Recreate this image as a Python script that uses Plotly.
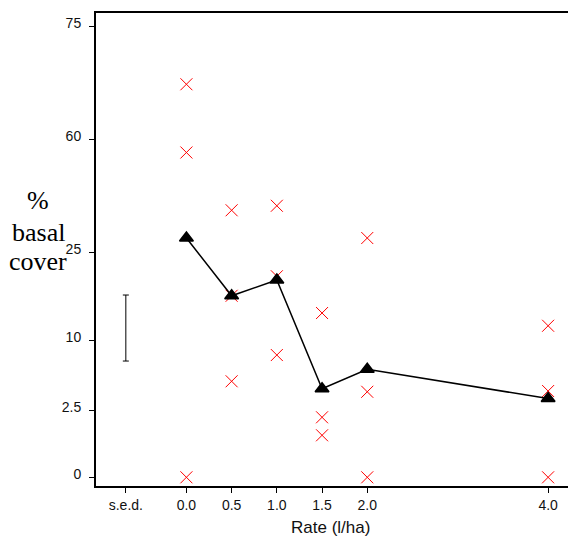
import plotly.graph_objects as go

# Rates (l/ha) and replicate observations (angular-transformed % basal cover units)
rates = [0.0, 0.5, 1.0, 1.5, 2.0, 4.0]
rep_x = [0.0, 0.0, 0.0,
         0.5, 0.5, 0.5,
         1.0, 1.0, 1.0,
         1.5, 1.5, 1.5,
         2.0, 2.0, 2.0,
         4.0, 4.0, 4.0]
rep_y = [52.4, 43.3, 0.0,
         35.6, 24.2, 12.8,
         36.2, 26.8, 16.3,
         21.9, 8.0, 5.6,
         31.9, 11.4, 0.0,
         20.2, 11.5, 0.0]
means = [31.9, 24.2, 26.3, 11.8, 14.4, 10.5]

# s.e.d. bar
sed_x = [-0.67]
sed_center = [19.9]
sed_half = [4.4]

# axis ticks
x_tickvals = [-0.67, 0.0, 0.5, 1.0, 1.5, 2.0, 4.0]
x_ticktext = ["s.e.d.", "0.0", "0.5", "1.0", "1.5", "2.0", "4.0"]
y_tickvals = [0.0, 8.9, 18.3, 30.0, 45.1, 60.1]
y_ticktext = ["0", "2.5", "10", "25", "60", "75"]

fig = go.Figure()

fig.add_trace(go.Scatter(
    x=rep_x, y=rep_y, mode="markers",
    marker=dict(symbol="x-thin", size=12, color="rgb(255,0,0)", opacity=1,
                line=dict(color="rgb(255,0,0)", width=1)),
    showlegend=False, hoverinfo="skip"))

fig.add_trace(go.Scatter(
    x=rates, y=means, mode="lines+markers",
    line=dict(color="black", width=1.5),
    marker=dict(symbol="triangle-up", size=12, color="black",
                line=dict(color="black", width=1.5)),
    showlegend=False, hoverinfo="skip"))

fig.add_trace(go.Scatter(
    x=sed_x, y=sed_center, mode="markers",
    marker=dict(size=1, color="rgba(0,0,0,0)"),
    error_y=dict(type="data", array=sed_half, visible=True,
                 color="black", thickness=1, width=3),
    showlegend=False, hoverinfo="skip"))

tickfont = dict(family="Liberation Sans, Arial, sans-serif", size=14, color="#111")

fig.update_layout(
    width=568, height=536,
    margin=dict(l=96, r=0, t=13, b=50),
    paper_bgcolor="white", plot_bgcolor="white",
    hovermode=False,
    xaxis=dict(range=[-1.0, 4.22], tickmode="array",
               tickvals=x_tickvals, ticktext=x_ticktext,
               showgrid=False, zeroline=False,
               showline=True, linecolor="black", linewidth=2, mirror=True,
               ticks="outside", ticklen=5, tickwidth=1, tickcolor="black",
               tickfont=tickfont),
    yaxis=dict(range=[-1.16, 61.9], tickmode="array",
               tickvals=y_tickvals, ticktext=y_ticktext,
               showgrid=False, zeroline=False,
               showline=True, linecolor="black", linewidth=2,
               ticks="outside", ticklen=5, tickwidth=1, tickcolor="black",
               ticklabelstandoff=5, ticklabelshift=-3,
               tickfont=tickfont),
)

serif = dict(family="Liberation Serif, Times New Roman, serif", size=26, color="black")
for txt, ypix in [("%", 200.5), ("basal", 232.2), ("cover", 261.9)]:
    fig.add_annotation(text=txt, xref="paper", yref="paper",
                       x=(38 - 96) / 472, y=(486 - ypix) / 473,
                       xanchor="center", yanchor="middle",
                       showarrow=False, font=serif)

fig.add_annotation(text="Rate (l/ha)", xref="paper", yref="paper",
                   x=(330 - 96) / 472, y=(486 - 527) / 473,
                   xanchor="center", yanchor="middle", showarrow=False,
                   font=dict(family="Liberation Sans, Arial, sans-serif", size=17, color="#111"))

fig.write_html("out.html", config={"displayModeBar": False, "staticPlot": True},
               post_script="document.body.style.margin='0';document.body.style.overflow='hidden';")
